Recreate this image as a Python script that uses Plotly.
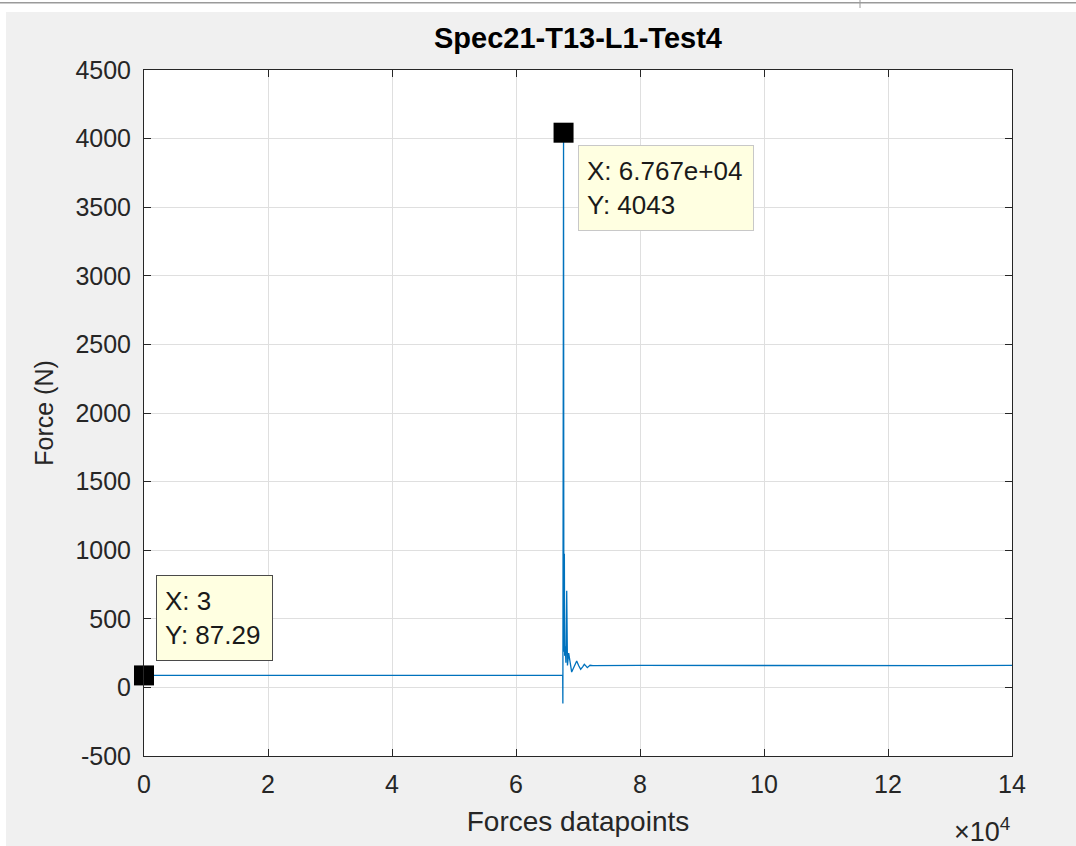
import plotly.graph_objects as go

# ---- data -------------------------------------------------------------
sample_idx = [1, 3, 10000, 20000, 30000, 40000, 50000, 60000, 67400, 67530,
              67560, 67670, 67720, 67800, 67850, 67950, 68050, 68180, 68300,
              68500, 68980, 69400, 69790, 70100, 70430, 70750, 71020, 71300,
              71500, 71940, 72400, 80000, 90000, 100000, 110000, 120000,
              130000, 140000]
force_n = [87, 87.29, 88, 87, 88, 87, 88, 87, 88, 87,
           -117, 4043, 260, 975, 230, 300, 180, 705, 160,
           250, 112, 150, 192, 160, 132, 150, 168, 155,
           144, 161, 158, 160, 159, 160, 159, 160,
           159, 160]

# data tips: (x, y)
tip_x = [67670, 3]
tip_y = [4043, 87.29]
tip_text = ["X: 6.767e+04<br>Y: 4043", "X: 3<br>Y: 87.29"]

x_tickvals = [0, 20000, 40000, 60000, 80000, 100000, 120000, 140000]
x_ticktext = ["0", "2", "4", "6", "8", "10", "12", "14"]
y_tickvals = [-500, 0, 500, 1000, 1500, 2000, 2500, 3000, 3500, 4000, 4500]
y_ticktext = ["-500", "0", "500", "1000", "1500", "2000", "2500", "3000",
              "3500", "4000", "4500"]

# ---- layout geometry ---------------------------------------------------
W, H = 1076, 846
ML, MR, MT, MB = 144, 64, 70, 90
PW, PH = W - ML - MR, H - MT - MB


def px_x(px):
    return (px - ML) / PW


def px_y(py):
    return (H - MB - py) / PH


FONT = "Liberation Sans, Arial, Helvetica, sans-serif"
INK = "#262626"
GRID = "#dfdfdf"

fig = go.Figure()

fig.add_trace(go.Scatter(
    x=sample_idx, y=force_n, mode="lines",
    line=dict(color="#0072BD", width=1.3),
    hoverinfo="skip", showlegend=False,
))

fig.add_trace(go.Scatter(
    x=tip_x, y=tip_y, mode="markers",
    marker=dict(symbol="square", size=20, color="#000000",
                line=dict(width=0)),
    cliponaxis=False, hoverinfo="skip", showlegend=False,
))

axis_common = dict(
    showgrid=True, gridcolor=GRID, gridwidth=1,
    showline=True, linecolor=INK, linewidth=1, mirror="ticks",
    ticks="inside", ticklen=7, tickcolor=INK, tickwidth=1,
    zeroline=False,
    tickfont=dict(family=FONT, size=25, color=INK),
)

fig.update_layout(
    width=W, height=H,
    margin=dict(l=ML, r=MR, t=MT, b=MB),
    paper_bgcolor="#f0f0f0",
    plot_bgcolor="#ffffff",
    title=dict(
        text="Spec21-T13-L1-Test4",
        font=dict(family=FONT, size=29, color="#000000", weight="bold"),
        x=(ML + PW / 2) / W, xanchor="center",
        y=1 - 38 / H, yanchor="middle", yref="container",
    ),
    xaxis=dict(
        range=[0, 140000], tickvals=x_tickvals, ticktext=x_ticktext,
        ticklabelstandoff=6,
        title=dict(text="Forces datapoints", standoff=14,
                   font=dict(family=FONT, size=28, color=INK)),
        **axis_common,
    ),
    yaxis=dict(
        range=[-500, 4500], tickvals=y_tickvals, ticktext=y_ticktext,
        ticklabelstandoff=7,
        title=dict(text="Force (N)", standoff=14,
                   font=dict(family=FONT, size=25, color=INK)),
        **axis_common,
    ),
)

# data tip boxes
fig.add_annotation(
    x=tip_x[0], y=tip_y[0], xref="x", yref="y",
    text=tip_text[0], showarrow=False, align="left",
    xanchor="left", yanchor="top", xshift=14, yshift=-12,
    width=158, height=68, borderpad=8,
    bgcolor="#ffffe1", bordercolor="#c8c8c8", borderwidth=1,
    font=dict(family=FONT, size=26, color="#1a1a1a"),
)
fig.add_annotation(
    x=tip_x[1], y=tip_y[1], xref="x", yref="y",
    text=tip_text[1], showarrow=False, align="left",
    xanchor="left", yanchor="bottom", xshift=12, yshift=14,
    width=99, height=68, borderpad=8,
    bgcolor="#ffffe1", bordercolor="#4a4a4a", borderwidth=1,
    font=dict(family=FONT, size=26, color="#1a1a1a"),
)

# axis exponent
fig.add_annotation(
    x=1, y=0, xref="paper", yref="paper",
    text="\u00d710<sup>4</sup>", showarrow=False,
    xanchor="right", yanchor="middle", xshift=0, yshift=-74,
    font=dict(family=FONT, size=27, color=INK),
)

# window frame: white strip at top and left edge, thin grey rule
fig.add_shape(type="rect", xref="paper", yref="paper", layer="above",
              x0=px_x(0), x1=px_x(W), y0=px_y(12), y1=px_y(0),
              fillcolor="#ffffff", line=dict(width=0))
fig.add_shape(type="rect", xref="paper", yref="paper", layer="above",
              x0=px_x(0), x1=px_x(6), y0=px_y(H), y1=px_y(0),
              fillcolor="#ffffff", line=dict(width=0))
fig.add_shape(type="line", xref="paper", yref="paper", layer="above",
              x0=px_x(0), x1=px_x(W), y0=px_y(2.7), y1=px_y(2.7),
              line=dict(color="#9a9a9a", width=1.6))
fig.add_shape(type="line", xref="paper", yref="paper", layer="above",
              x0=px_x(860), x1=px_x(860), y0=px_y(0), y1=px_y(8),
              line=dict(color="#9a9a9a", width=1))

fig.write_html("out.html")
